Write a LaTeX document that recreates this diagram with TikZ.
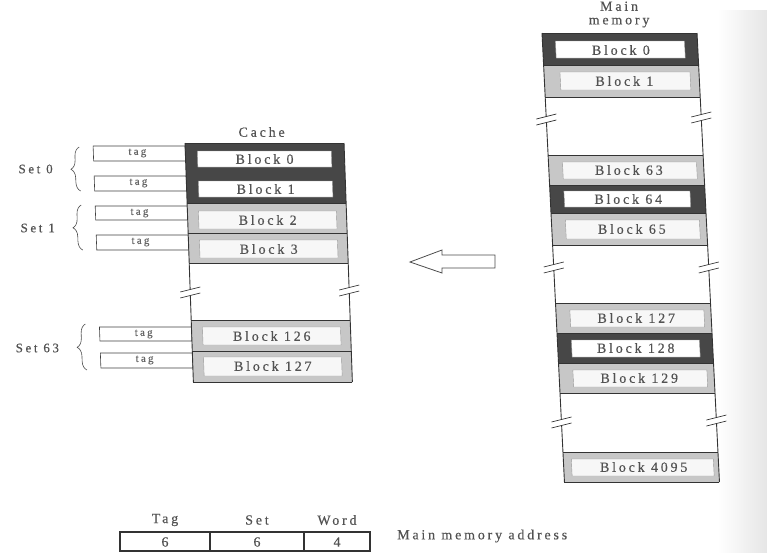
\documentclass[tikz,border=0pt]{standalone}
\usepackage{fontspec}
\setmainfont{Liberation Serif}
\newfontfamily\scanfont[LetterSpace=20,FakeBold=0.4]{Liberation Serif}
\usetikzlibrary{decorations.pathreplacing}
\begin{document}
\begin{tikzpicture}[x=1pt,y=-1pt,
  rim/.style={draw=black!80,line width=0.9pt},
  darkfill/.style={fill=black!72},
  greyfill/.style={fill=black!22},
  inbox/.style={fill=white,draw=black!40,line width=0.4pt},
  lbl/.style={font=\scanfont\fontsize{14}{16}\selectfont,text=black!68,inner sep=0pt},
  setlbl/.style={font=\scanfont\fontsize{13}{15}\selectfont,text=black!68,inner sep=0pt,anchor=east},
  taglbl/.style={font=\scanfont\fontsize{11}{13}\selectfont,text=black!60,inner sep=0pt},
  tagbox/.style={draw=black!75,line width=0.6pt,fill=white},
  setbrace/.style={draw=black!70,line width=0.6pt,decorate,decoration={brace,amplitude=9pt}},
  cutmark/.pic={\fill[white] (-10,-1)--(10,-6)--(10,0)--(-10,5)--cycle;
                \draw[black!80,line width=0.7pt] (-10,-1)--(10,-6) (-10,5)--(10,0);}
]
\useasboundingbox (0,0) rectangle (767,552);
\shade[left color=white,right color=black!10] (718,10) rectangle (767,552);

% ---------------- Cache ----------------
\begin{scope}[xshift=-5pt,xslant=-0.035]
  \node[lbl] (cachelbl) at (262,132) {Cache};
  % tags
  \draw[tagbox] (93,146) rectangle (185,161);
  \draw[tagbox] (93,176) rectangle (185,191);
  \draw[tagbox] (93,206) rectangle (185,220);
  \draw[tagbox] (93,235) rectangle (185,250);
  \draw[tagbox] (93,327) rectangle (185,341);
  \draw[tagbox] (93,353) rectangle (185,368);
  \node[taglbl] (t0) at (137,153) {tag};
  \node[taglbl] (t1) at (137,183) {tag};
  \node[taglbl] (t2) at (137,213) {tag};
  \node[taglbl] (t3) at (137,242) {tag};
  \node[taglbl] (t4) at (137,334) {tag};
  \node[taglbl] (t5) at (137,360) {tag};
  % braces
  \draw[setbrace] (79,191) -- (79,147);
  \draw[setbrace] (79,250) -- (79,205);
  \draw[setbrace] (79,370) -- (79,324);
  \node[setlbl] (s0) at (52,169) {Set 0};
  \node[setlbl] (s1) at (52,228) {Set 1};
  \node[setlbl] (s63) at (52,348) {Set 63};
  % cache body
  \fill[darkfill] (185,143) rectangle (344,203);
  \fill[greyfill] (185,203) rectangle (344,263);
  \fill[greyfill] (185,320) rectangle (344,382);
  \draw[inbox] (197,151) rectangle (331,167);
  \draw[inbox] (197,181) rectangle (331,197);
  \draw[inbox,fill=black!3] (196,211) rectangle (334,229);
  \draw[inbox,fill=black!3] (196,240) rectangle (334,258);
  \draw[inbox,fill=black!3] (196,327) rectangle (334,345);
  \draw[inbox,fill=black!3] (196,357) rectangle (334,376);
  \draw[rim] (185,143)--(344,143) (185,203)--(344,203) (185,233)--(344,233)
             (185,263)--(344,263) (185,320)--(344,320) (185,351)--(344,351)
             (185,382)--(344,382);
  \draw[rim] (185,143)--(185,382) (344,143)--(344,382);
  \pic at (185,293) {cutmark};
  \pic at (344,291) {cutmark};
  \node[lbl] (cb0) at (264,159) {Block 0};
  \node[lbl] (cb1) at (264,189) {Block 1};
  \node[lbl] (cb2) at (265,220) {Block 2};
  \node[lbl] (cb3) at (265,249) {Block 3};
  \node[lbl] (cb126) at (265,336) {Block 126};
  \node[lbl] (cb127) at (265,366) {Block 127};
\end{scope}

% ---------------- Main memory ----------------
\begin{scope}[xshift=-1.65pt,xslant=-0.05]
  \node[lbl,align=center,font=\scanfont\fontsize{14}{13.5}\selectfont] (memlbl) at (620,14.5) {Main\\memory};
  \fill[darkfill] (542,33) rectangle (697,65);
  \fill[greyfill] (542,65) rectangle (697,97);
  \fill[greyfill] (542,155) rectangle (697,185);
  \fill[darkfill] (542,185) rectangle (697,213);
  \fill[greyfill] (542,213) rectangle (697,245);
  \fill[greyfill] (542,303) rectangle (697,333);
  \fill[darkfill] (542,333) rectangle (697,363);
  \fill[greyfill] (542,363) rectangle (697,393);
  \fill[greyfill] (542,452) rectangle (697,482);
  \draw[inbox] (555,41) rectangle (684,58);
  \draw[inbox,fill=black!3] (558,72) rectangle (688,90);
  \draw[inbox,fill=black!3] (556,162) rectangle (690,179);
  \draw[inbox] (556,191) rectangle (682,207);
  \draw[inbox,fill=black!3] (556,220) rectangle (690,239);
  \draw[inbox,fill=black!3] (556,310) rectangle (690,327);
  \draw[inbox] (556,340) rectangle (684,357);
  \draw[inbox,fill=black!3] (556,370) rectangle (690,387);
  \draw[inbox,fill=black!3] (550,459) rectangle (692,476);
  \draw[rim] (542,33)--(697,33) (542,65)--(697,65) (542,97)--(697,97)
             (542,155)--(697,155) (542,185)--(697,185) (542,213)--(697,213)
             (542,245)--(697,245) (542,303)--(697,303) (542,333)--(697,333)
             (542,363)--(697,363) (542,393)--(697,393) (542,452)--(697,452)
             (542,482)--(697,482);
  \draw[rim] (542,33)--(542,482) (697,33)--(697,482);
  \pic at (542,120) {cutmark};
  \pic at (697,118) {cutmark};
  \pic at (542,268) {cutmark};
  \pic at (697,268) {cutmark};
  \pic at (542,423) {cutmark};
  \pic at (697,421) {cutmark};
  \node[lbl] (mb0) at (620,50) {Block 0};
  \node[lbl] (mb1) at (622,81) {Block 1};
  \node[lbl] (mb63) at (622,170) {Block 63};
  \node[lbl] (mb64) at (620,199) {Block 64};
  \node[lbl] (mb65) at (622,229) {Block 65};
  \node[lbl] (mb127) at (622,318) {Block 127};
  \node[lbl] (mb128) at (620,348) {Block 128};
  \node[lbl] (mb129) at (622,378) {Block 129};
  \node[lbl] (mb4095) at (622,467) {Block 4095};
\end{scope}

% ---------------- hollow arrow ----------------
\draw[black!70,line width=0.8pt,fill=white]
  (495,255) -- (442,255) -- (442,250) -- (410,262) -- (442,273) -- (442,268) -- (495,268) -- cycle;

% ---------------- address format ----------------
\node[lbl] (hTag) at (165,520) {Tag};
\node[lbl] (hSet) at (257,520) {Set};
\node[lbl] (hWord) at (337,520) {Word};
\draw[rim,line width=1.1pt] (120,532) rectangle (370,551) (210,532)--(210,551) (304,532)--(304,551);
\node[lbl] (vTag) at (165,542) {6};
\node[lbl] (vSet) at (257,542) {6};
\node[lbl] (vWord) at (337,542) {4};
\node[lbl,anchor=west] (mma) at (397,536) {Main memory address};
\end{tikzpicture}
\end{document}
